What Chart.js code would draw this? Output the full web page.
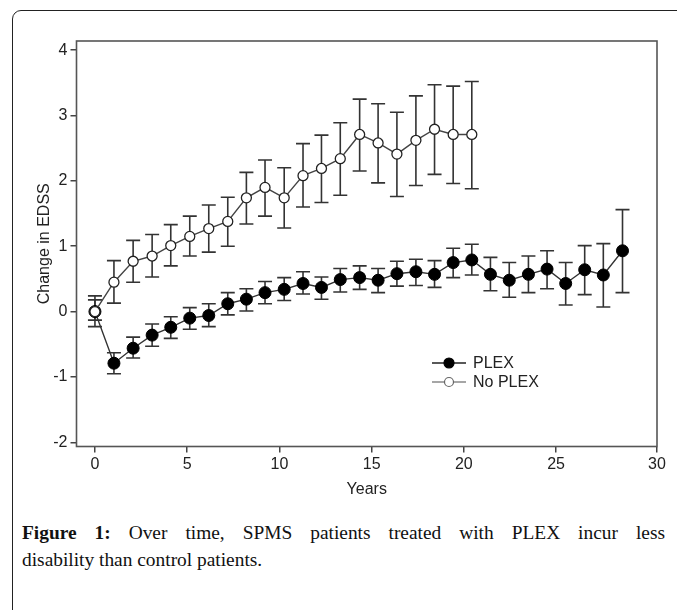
<!DOCTYPE html>
<html>
<head>
<meta charset="utf-8">
<script src="https://cdn.jsdelivr.net/npm/chart.js@4.4.1/dist/chart.umd.min.js"></script>
<style>
  html, body { margin: 0; padding: 0; background: #fff; }
  body { width: 677px; height: 610px; position: relative; overflow: hidden; }
  #box {
    position: absolute; left: 12px; top: 10px; width: 720px; height: 700px;
    border: 1.5px solid #222; border-top-left-radius: 9px;
  }
  #chart { position: absolute; left: 0; top: 0; }
  #caption {
    position: absolute; left: 22px; top: 519px; width: 643px;
    font-family: "Liberation Serif", "Times New Roman", serif;
    font-size: 19.4px; line-height: 27px; color: #111;
  }
  #caption .l1 { text-align: justify; text-align-last: justify; }
  #caption b { font-weight: bold; }
</style>
</head>
<body>
<div id="box"></div>
<canvas id="chart" width="677" height="505"></canvas>
<div id="caption">
  <div class="l1"><b>Figure 1:</b> Over time, SPMS patients treated with PLEX incur less</div>
  <div>disability than control patients.</div>
</div>
<script>
// years of follow-up (same time points for both groups)
const years = [0, 1.03, 2.07, 3.1, 4.11, 5.14, 6.17, 7.2, 8.21, 9.22, 10.26, 11.28,
  12.28, 13.3, 14.35, 15.35, 16.37, 17.4, 18.41, 19.42, 20.43, 21.44, 22.46,
  23.5, 24.51, 25.52, 26.55, 27.56, 28.6];

const plexMean = [0, -0.79, -0.56, -0.36, -0.24, -0.1, -0.06, 0.12, 0.19, 0.29, 0.34,
  0.43, 0.37, 0.49, 0.52, 0.48, 0.58, 0.61, 0.57, 0.75, 0.79, 0.57, 0.48, 0.57,
  0.65, 0.43, 0.64, 0.56, 0.93];
const plexLow = [-0.13, -0.95, -0.71, -0.53, -0.41, -0.27, -0.23, -0.05, 0.01, 0.12,
  0.17, 0.27, 0.19, 0.3, 0.34, 0.29, 0.39, 0.4, 0.37, 0.52, 0.56, 0.32, 0.22, 0.29,
  0.35, 0.1, 0.26, 0.07, 0.29];
const plexHigh = [0.18, -0.63, -0.39, -0.19, -0.08, 0.06, 0.12, 0.29, 0.35, 0.46,
  0.52, 0.61, 0.53, 0.66, 0.7, 0.66, 0.77, 0.8, 0.78, 0.97, 1.03, 0.83, 0.75, 0.85,
  0.93, 0.75, 1.01, 1.04, 1.56];

const noPlexMean = [0, 0.45, 0.77, 0.85, 1.01, 1.15, 1.27, 1.38, 1.74, 1.9, 1.74,
  2.08, 2.19, 2.34, 2.71, 2.58, 2.41, 2.62, 2.79, 2.71, 2.71];
const noPlexLow = [-0.23, 0.13, 0.45, 0.53, 0.7, 0.85, 0.91, 1.0, 1.34, 1.46, 1.28,
  1.6, 1.67, 1.78, 2.15, 1.97, 1.76, 1.93, 2.1, 1.96, 1.88];
const noPlexHigh = [0.24, 0.78, 1.09, 1.18, 1.33, 1.46, 1.63, 1.75, 2.13, 2.32, 2.2,
  2.57, 2.7, 2.89, 3.25, 3.18, 3.05, 3.3, 3.47, 3.45, 3.52];

const xTicks = [0, 5, 10, 15, 20, 25, 30];
const yTicks = [-2, -1, 0, 1, 2, 3, 4];

function toPoints(mean, low, high) {
  return mean.map((v, i) => ({ x: years[i], y: v, lo: low[i], hi: high[i] }));
}

const frame = {
  id: "frame",
  afterDatasetsDraw(chart) {
    const { ctx, chartArea: a } = chart;
    ctx.save();
    ctx.strokeStyle = "#555";
    ctx.lineWidth = 1.6;
    ctx.strokeRect(a.left, a.top, a.right - a.left, a.bottom - a.top);
    ctx.restore();
  },
};

// vertical error bars with caps, drawn under the markers
const errorBars = {
  id: "errorBars",
  beforeDatasetsDraw(chart) {
    const { ctx } = chart;
    const xs = chart.scales.x, ys = chart.scales.y;
    ctx.save();
    ctx.strokeStyle = "#333";
    ctx.lineWidth = 1.6;
    chart.data.datasets.forEach((ds) => {
      for (const p of ds.data) {
        const x = xs.getPixelForValue(p.x);
        const y1 = ys.getPixelForValue(p.lo);
        const y2 = ys.getPixelForValue(p.hi);
        ctx.beginPath();
        ctx.moveTo(x, y1); ctx.lineTo(x, y2);
        ctx.moveTo(x - 7, y1); ctx.lineTo(x + 7, y1);
        ctx.moveTo(x - 7, y2); ctx.lineTo(x + 7, y2);
        ctx.stroke();
      }
    });
    ctx.restore();
  },
};

const legendBox = {
  id: "legendBox",
  afterDraw(chart) {
    const { ctx } = chart;
    const rows = [
      { label: "PLEX", line: "#222", fill: "#000", stroke: "#000", r: 5, y: 363 },
      { label: "No PLEX", line: "#888", fill: "#fff", stroke: "#666", r: 4.5, y: 382 },
    ];
    ctx.save();
    ctx.font = "16px 'Liberation Sans', Arial, sans-serif";
    ctx.textBaseline = "middle";
    for (const r of rows) {
      ctx.strokeStyle = r.line;
      ctx.lineWidth = 1.5;
      ctx.beginPath();
      ctx.moveTo(432, r.y); ctx.lineTo(466, r.y);
      ctx.stroke();
      ctx.beginPath();
      ctx.arc(449, r.y, r.r, 0, Math.PI * 2);
      ctx.fillStyle = r.fill;
      ctx.fill();
      ctx.lineWidth = 1.2;
      ctx.strokeStyle = r.stroke;
      ctx.stroke();
      ctx.fillStyle = "#222";
      ctx.fillText(r.label, 473, r.y + 1);
    }
    ctx.restore();
  },
};

const tickFont = { family: "'Liberation Sans', Arial, sans-serif", size: 16 };

new Chart(document.getElementById("chart"), {
  type: "line",
  data: {
    datasets: [
      {
        label: "PLEX",
        data: toPoints(plexMean, plexLow, plexHigh),
        borderColor: "#333",
        borderWidth: 1.4,
        pointRadius: 6,
        pointBackgroundColor: "#000",
        pointBorderColor: "#000",
        pointBorderWidth: 1,
        order: 2,
      },
      {
        label: "No PLEX",
        data: toPoints(noPlexMean, noPlexLow, noPlexHigh),
        borderColor: "#444",
        borderWidth: 1.4,
        pointRadius: 5,
        pointBackgroundColor: "#fff",
        pointBorderColor: "#222",
        pointBorderWidth: 1.3,
        order: 1,
      },
    ],
  },
  options: {
    responsive: false,
    animation: false,
    layout: { padding: { left: 0, top: 41, right: 20, bottom: 0 } },
    plugins: { legend: { display: false }, tooltip: { enabled: false } },
    scales: {
      x: {
        type: "linear",
        min: -1,
        max: 30.47,
        afterBuildTicks(s) {
          // last label sits on the right edge of the frame in the original
          s.ticks = xTicks.map((v, i) => ({ value: i === xTicks.length - 1 ? s.max : v }));
        },
        afterFit(s) { s.height = 58.5; },
        ticks: {
          font: tickFont, color: "#222", padding: 2, maxRotation: 0,
          callback: (v, i) => String(xTicks[i]),
        },
        grid: { drawOnChartArea: false, drawTicks: true, tickLength: 6, color: "#444", lineWidth: 1.5 },
        border: { display: false },
        title: {
          display: true, text: "Years", color: "#222", font: tickFont,
          padding: { top: 0, bottom: 6 },
        },
      },
      y: {
        min: -2.064,
        max: 4.14,
        afterBuildTicks(s) { s.ticks = yTicks.map((v) => ({ value: v })); },
        afterFit(s) { s.width = 76.5; },
        ticks: { font: tickFont, color: "#222", padding: 3 },
        grid: { drawOnChartArea: false, drawTicks: true, tickLength: 6, color: "#444", lineWidth: 1.5 },
        border: { display: false },
        title: {
          display: true, text: "Change in EDSS", color: "#222", font: tickFont,
          padding: { top: 35, bottom: 0 },
        },
      },
    },
  },
  plugins: [errorBars, frame, legendBox],
});
</script>
</body>
</html>
